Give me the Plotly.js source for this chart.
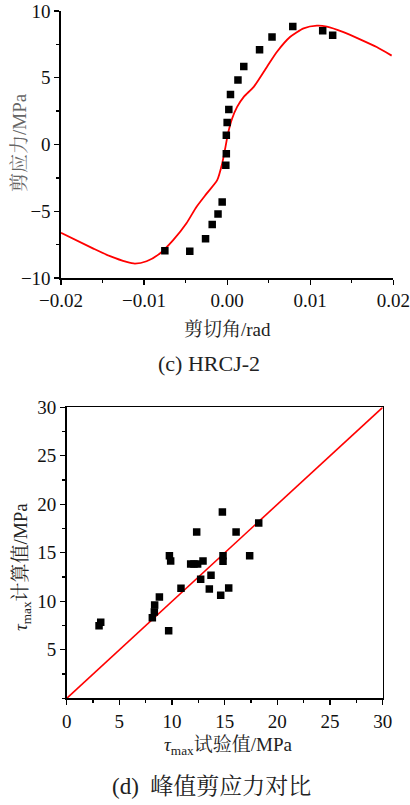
<!DOCTYPE html>
<html>
<head>
<meta charset="utf-8">
<script src="https://cdn.plot.ly/plotly-3.0.1.min.js"></script>
<style>html,body{margin:0;padding:0;background:#fff;}#chart{width:410px;height:805px;}</style>
</head>
<body>
<div id="chart"></div>
<script>
// (c) HRCJ-2 : test points
const testAngle = [-0.0075, -0.0045, -0.0026, -0.0018, -0.0011, -0.0006, -0.00016, -0.0001, -0.0001, 0.0000, 0.0002, 0.0004, 0.0013, 0.0020, 0.0039, 0.0054, 0.0079, 0.0115, 0.0127];
const testStress = [-7.97, -8.0, -7.07, -6.0, -5.2, -4.3, -1.55, -0.7, 0.7, 1.65, 2.63, 3.75, 4.83, 5.85, 7.1, 8.05, 8.85, 8.52, 8.18];
// (c) HRCJ-2 : calculated curve
const curveAngle = [-0.0200, -0.0161, -0.0141, -0.0121, -0.0111, -0.0097, -0.0081, -0.0065, -0.0049, -0.0037, -0.0025, -0.0012, -0.0006, -0.0002, 0.0001, 0.0006, 0.0012, 0.0020, 0.0032, 0.0048, 0.0060, 0.0076, 0.0092, 0.0108, 0.0120, 0.0140, 0.0160, 0.0180, 0.0198];
const curveStress = [-6.62, -7.80, -8.37, -8.80, -8.92, -8.75, -8.17, -7.17, -5.90, -4.68, -3.70, -2.67, -1.42, -0.18, 0.82, 1.95, 2.82, 3.57, 4.32, 5.83, 6.95, 8.07, 8.70, 8.90, 8.83, 8.42, 7.88, 7.30, 6.66];
// (d) peak shear stress: test vs calculated
const tauTest = [3.07, 3.23, 8.13, 8.32, 8.35, 8.8, 9.68, 9.75, 9.87, 10.85, 11.77, 12.08, 12.34, 12.43, 12.72, 12.94, 13.54, 13.7, 14.62, 14.78, 14.84, 14.84, 15.38, 16.08, 17.37, 18.23];
const tauCalc = [7.49, 7.84, 8.32, 8.9, 9.62, 10.45, 6.98, 14.7, 14.16, 11.34, 13.85, 13.85, 17.15, 13.85, 12.27, 14.16, 11.27, 12.68, 10.62, 19.2, 14.7, 14.12, 11.37, 17.15, 14.7, 18.08];
const refLineX = [0, 30];
const refLineY = [0, 30];

const FONT = 'Liberation Serif, "Times New Roman", "Noto Serif CJK SC", "Noto Sans CJK SC", serif';

const traces = [
  {x: curveAngle, y: curveStress, type: 'scatter', mode: 'lines', line: {color: '#ff0000', width: 1.8, shape: 'spline', smoothing: 0.6}, xaxis: 'x', yaxis: 'y', hoverinfo: 'skip'},
  {x: testAngle, y: testStress, type: 'scatter', mode: 'markers', marker: {symbol: 'square', size: 7.5, color: '#000'}, xaxis: 'x', yaxis: 'y'},
  {x: refLineX, y: refLineY, type: 'scatter', mode: 'lines', line: {color: '#ff0000', width: 1.6}, xaxis: 'x2', yaxis: 'y2'},
  {x: tauTest, y: tauCalc, type: 'scatter', mode: 'markers', marker: {symbol: 'square', size: 7.5, color: '#000'}, xaxis: 'x2', yaxis: 'y2'}
];

const axBase = {showgrid: false, zeroline: false, showline: true, linecolor: '#000', linewidth: 1.6,
  ticks: 'outside', ticklen: 5, tickwidth: 1.3, tickcolor: '#000', tickfont: {size: 19, color: '#111', family: FONT},
  automargin: false, ticklabeloverflow: 'allow'};

const layout = {
  width: 410, height: 805,
  margin: {l: 0, r: 0, t: 0, b: 0},
  paper_bgcolor: '#fff', plot_bgcolor: '#fff',
  showlegend: false,
  font: {family: FONT, color: '#111'},
  xaxis: Object.assign({}, axBase, {domain: [0.1488, 0.9593], anchor: 'y', range: [-0.02, 0.02], tickmode: 'linear', tick0: -0.02, dtick: 0.01, tickformat: '.2f',
    minor: {ticks: 'outside', ticklen: 3, dtick: 0.005, tick0: -0.02, tickcolor: '#000'}}),
  yaxis: Object.assign({}, axBase, {domain: [0.6547, 0.9863], anchor: 'x', range: [-10, 10], tickmode: 'linear', tick0: -10, dtick: 5,
    minor: {ticks: 'outside', ticklen: 3, dtick: 2.5, tick0: -10, tickcolor: '#000'}}),
  xaxis2: Object.assign({}, axBase, {domain: [0.1627, 0.9334], anchor: 'y2', range: [0, 30], tickmode: 'linear', tick0: 0, dtick: 5, mirror: true,
    minor: {ticks: 'outside', ticklen: 3, dtick: 2.5, tick0: 0, tickcolor: '#000'}}),
  yaxis2: Object.assign({}, axBase, {domain: [0.1325, 0.494], anchor: 'x2', range: [0, 30], tickmode: 'array', tickvals: [5, 10, 15, 20, 25, 30], mirror: true,
    minor: {ticks: 'outside', ticklen: 3, tickmode: 'linear', dtick: 2.5, tick0: 0, tickcolor: '#000'}}),
  annotations: [
    {text: '剪切角/rad', xref: 'paper', yref: 'paper', x: 0.5537, y: 0.5905, showarrow: false, font: {size: 19, color: '#222'}, xanchor: 'center', yanchor: 'middle'},
    {text: '剪应力/MPa', xref: 'paper', yref: 'paper', x: 0.0488, y: 0.8224, textangle: -90, showarrow: false, font: {size: 19, color: '#666'}, xanchor: 'center', yanchor: 'middle'},
    {text: '(c) HRCJ-2', xref: 'paper', yref: 'paper', x: 0.5098, y: 0.549, showarrow: false, font: {size: 22, color: '#222'}, xanchor: 'center', yanchor: 'middle'},
    {text: '<i>τ</i><sub>max</sub>试验值/MPa', xref: 'paper', yref: 'paper', x: 0.556, y: 0.0735, showarrow: false, font: {size: 19, color: '#222'}, xanchor: 'center', yanchor: 'middle'},
    {text: '<i>τ</i><sub>max</sub>计算值/MPa', xref: 'paper', yref: 'paper', x: 0.054, y: 0.2957, textangle: -90, showarrow: false, font: {size: 19, color: '#222'}, xanchor: 'center', yanchor: 'middle'},
    {text: '(d)  峰值剪应力对比', xref: 'paper', yref: 'paper', x: 0.517, y: 0.0224, showarrow: false, font: {size: 23, color: '#222'}, xanchor: 'center', yanchor: 'middle'}
  ]
};

Plotly.newPlot('chart', traces, layout, {staticPlot: true, displayModeBar: false});
</script>
</body>
</html>
